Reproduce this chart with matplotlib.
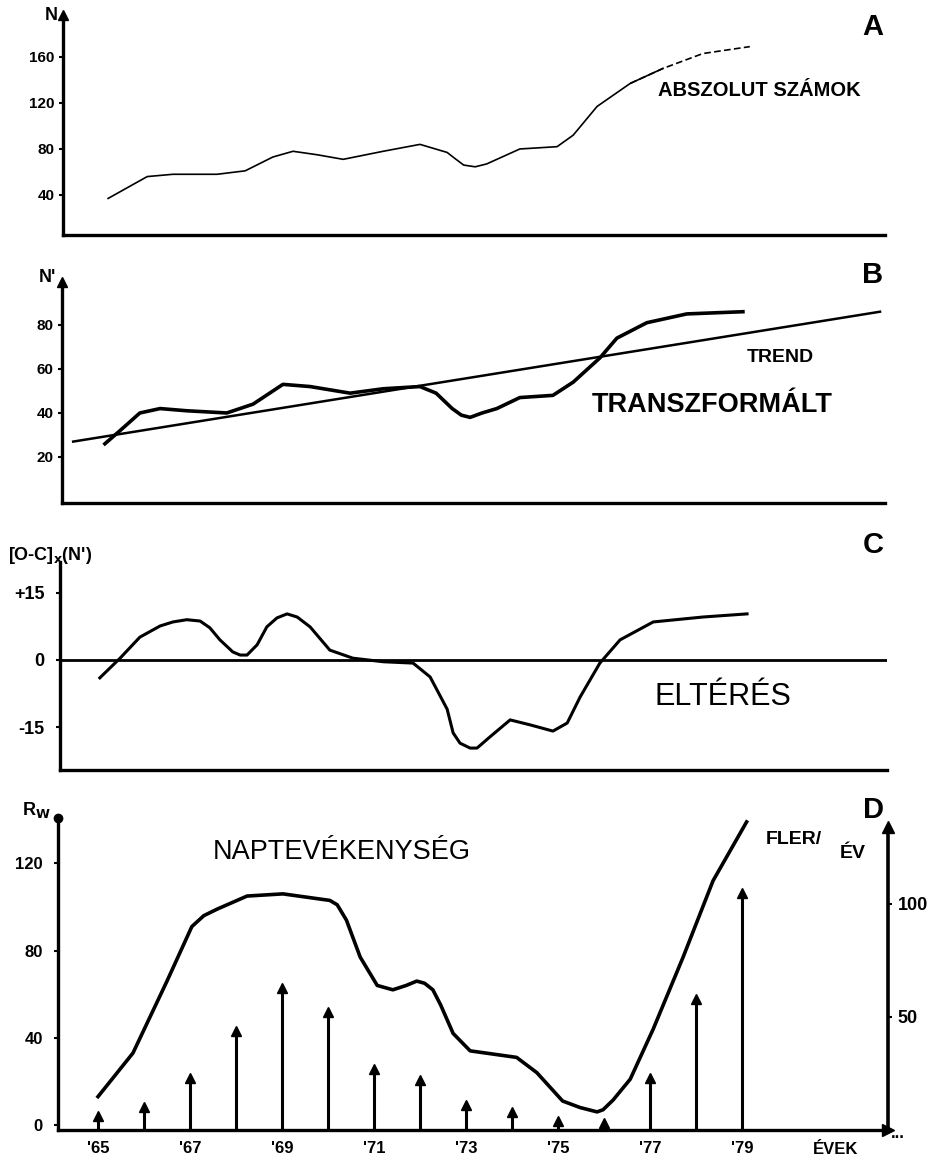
import matplotlib.pyplot as plt
import numpy as np

plt.rcParams['font.family'] = ['Liberation Sans', 'DejaVu Sans']
plt.rcParams['font.weight'] = 'bold'

W, H = 938, 1168

# A: absolute numbers
a_years = [1965.22, 1966.07, 1966.63, 1967.59, 1968.2, 1968.8, 1969.24, 1969.76, 1970.33,
           1971.2, 1972.0, 1972.59, 1972.75, 1972.95, 1973.2, 1973.45, 1974.17, 1974.98,
           1975.33, 1975.85, 1976.57, 1977.28, 1978.15, 1979.17]
a_counts = [37, 56, 58, 58, 61, 73, 78, 75, 71, 78, 84, 77, 72, 66, 64.5, 67, 80, 82,
            92, 117, 137, 150, 163, 169]
a_ticks = [40, 80, 120, 160]

# B: transformed values + linear trend
b_years = [1965.15, 1965.48, 1965.91, 1966.35, 1966.93, 1967.8, 1968.37, 1969.02, 1969.61,
           1970.48, 1971.2, 1972.0, 1972.35, 1972.7, 1972.9, 1973.09, 1973.35, 1973.67,
           1974.17, 1974.89, 1975.33, 1975.91, 1976.28, 1976.93, 1977.8, 1979.02]
b_values = [26, 32, 40, 42, 41, 40, 44, 53, 52, 49, 51, 52, 49, 42, 39, 38, 40, 42,
            47, 48, 54, 65, 74, 81, 85, 86]
trend_years = [1964.46, 1982.0]
trend_values = [27, 86]
b_ticks = [20, 40, 60, 80]

# C: deviation (O-C)
c_years = [1965.04, 1965.48, 1965.91, 1966.35, 1966.63, 1966.93, 1967.22, 1967.43, 1967.65,
           1967.93, 1968.09, 1968.24, 1968.46, 1968.67, 1968.89, 1969.11, 1969.33, 1969.61,
           1970.04, 1970.54, 1971.2, 1971.85, 1972.22, 1972.59, 1972.72, 1972.87, 1973.09,
           1973.24, 1973.52, 1973.96, 1974.39, 1974.89, 1975.2, 1975.48, 1975.91, 1976.35,
           1977.07, 1978.15, 1979.11]
c_dev = [-4.0, 0.4, 5.1, 7.6, 8.5, 9.0, 8.7, 7.2, 4.5, 1.8, 1.1, 1.1, 3.4, 7.4, 9.4,
         10.3, 9.6, 7.4, 2.2, 0.4, -0.4, -0.7, -3.8, -11, -16.3, -18.6, -19.7, -19.7,
         -17.2, -13.4, -14.5, -15.9, -14.1, -8.3, -0.7, 4.5, 8.5, 9.6, 10.3]
c_ticks = [15, 0, -15]
c_ticklabels = ['+15', '0', '-15']

# D: sunspot number Rw and flares per year
rw_years = [1965.0, 1965.76, 1966.5, 1967.04, 1967.3, 1967.59, 1968.24, 1969.02, 1970.04,
            1970.2, 1970.4, 1970.7, 1971.07, 1971.41, 1971.7, 1971.93, 1972.1, 1972.28,
            1972.45, 1972.72, 1973.09, 1974.1, 1974.54, 1975.1, 1975.48, 1975.85, 1975.98,
            1976.2, 1976.57, 1977.07, 1977.72, 1978.37, 1979.1]
rw_values = [13, 33, 66, 91, 96, 99, 105, 106, 103, 101, 94, 77, 64, 62, 64, 66, 65, 62,
             55, 42, 34, 31, 24, 11, 8, 6, 7, 11.5, 21, 44, 77, 112, 139]
flare_years = list(range(1965, 1980))
flares = [6, 10, 23, 44, 63, 52, 27, 22, 11, 8, 4, 3, 23, 58, 105]
rw_ticks = [0, 40, 80, 120]
flare_ticks = [50, 100]
year_ticks = [1965, 1967, 1969, 1971, 1973, 1975, 1977, 1979]
year_labels = ["'65", "'67", "'69", "'71", "'73", "'75", "'77", "'79"]


def year_at(x):
    return 1965 + (x - 98) / 46


def px_axes(fig, left, right, top, bottom):
    ax = fig.add_axes([left / W, 1 - bottom / H, (right - left) / W, (bottom - top) / H])
    ax.set_xlim(year_at(left), year_at(right))
    for s in ['top', 'right']:
        ax.spines[s].set_visible(False)
    for s in ['left', 'bottom']:
        ax.spines[s].set_linewidth(2.4)
    ax.tick_params(axis='x', bottom=False, labelbottom=False)
    ax.tick_params(axis='y', length=3, width=1.5)
    ax.patch.set_alpha(0)
    return ax


def ftext(fig, x, y, s, **kw):
    kw.setdefault('ha', 'center')
    kw.setdefault('va', 'center')
    fig.text(x / W, 1 - y / H, s, **kw)


fig = plt.figure(figsize=(W / 100, H / 100), dpi=100)

# Panel A
ax_a = px_axes(fig, 63, 885, 15, 235)
ax_a.set_ylim(5.2, 196.5)
a_y = np.array(a_years)
a_n = np.array(a_counts)
solid = a_y <= 1977.3
ax_a.plot(a_y[solid], a_n[solid], color='k', lw=1.2)
ax_a.plot(a_y[a_y >= 1976.57], a_n[a_y >= 1976.57], color='k', lw=1.2, ls=(0, (4, 2)))
ax_a.set_yticks(a_ticks)
ax_a.tick_params(axis='y', labelsize=11, pad=3)
ax_a.plot(0, 1, '^', color='k', ms=7, transform=ax_a.transAxes, clip_on=False)
ftext(fig, 51, 15, 'N', fontsize=13)
ftext(fig, 873, 27, 'A', fontsize=21)
ftext(fig, 759, 90, 'ABSZOLUT SZÁMOK', fontsize=14.5)

# Panel B
ax_b = px_axes(fig, 62, 885, 282, 503)
ax_b.set_ylim(-0.9, 99.5)
ax_b.plot(trend_years, trend_values, color='k', lw=1.8)
ax_b.plot(b_years, b_values, color='k', lw=2.6, solid_joinstyle='round')
ax_b.set_yticks(b_ticks)
ax_b.tick_params(axis='y', labelsize=11, pad=3)
ax_b.plot(0, 1, '^', color='k', ms=7, transform=ax_b.transAxes, clip_on=False)
ftext(fig, 47, 278, "N'", fontsize=13)
ftext(fig, 873, 275, 'B', fontsize=21)
ftext(fig, 780, 358, 'TREND', fontsize=14)
ftext(fig, 712, 405, 'TRANSZFORMÁLT', fontsize=19.5)

# Panel C
ax_c = px_axes(fig, 60, 887, 562, 770)
ax_c.set_ylim(-24.6, 21.9)
ax_c.axhline(0, color='k', lw=2)
ax_c.plot(c_years, c_dev, color='k', lw=2.2, solid_joinstyle='round')
ax_c.set_yticks(c_ticks, c_ticklabels)
ax_c.tick_params(axis='y', labelsize=13, pad=8)
ftext(fig, 50, 556, r"[O-C]$_\mathrm{x}$(N')", fontsize=13)
ftext(fig, 873, 545, 'C', fontsize=21)
ftext(fig, 723, 697, 'ELTÉRÉS', fontsize=22, fontweight='normal')

# Panel D
ax_d = px_axes(fig, 58, 888, 818, 1130)
ax_d.set_ylim(-2.3, 140.8)
ax_d.plot(rw_years, rw_values, color='k', lw=2.6, solid_joinstyle='round')
ax_d.set_yticks(rw_ticks)
ax_d.tick_params(axis='y', labelsize=12, pad=8)
ax_d.set_xticks(year_ticks, year_labels)
ax_d.tick_params(axis='x', labelbottom=True, length=0, labelsize=12, pad=8)
ax_d.plot(0, 1, 'o', color='k', ms=6, transform=ax_d.transAxes, clip_on=False)
ax_d.plot(1, 0, '>', color='k', ms=9, transform=ax_d.transAxes, clip_on=False)

ax_f = ax_d.twinx()
ax_f.set_ylim(0, 138)
for s in ['top', 'left', 'bottom']:
    ax_f.spines[s].set_visible(False)
ax_f.spines['right'].set_linewidth(2.6)
ax_f.spines['right'].set_bounds(0, 134)
ax_f.vlines(flare_years, 0, flares, color='k', lw=2.2)
ax_f.plot(flare_years, flares, '^', color='k', ms=7)
ax_f.set_yticks(flare_ticks)
ax_f.tick_params(axis='y', length=3, width=1.5, labelsize=13, pad=4)
ax_f.plot(1, 134, '^', color='k', ms=8, transform=ax_f.get_yaxis_transform(), clip_on=False)

ftext(fig, 36, 810, r'R$_\mathrm{W}$', fontsize=13)
ftext(fig, 873, 810, 'D', fontsize=21)
ftext(fig, 342, 852, 'NAPTEVÉKENYSÉG', fontsize=19.5, fontweight='normal')
ftext(fig, 794, 840, 'FLER/', fontsize=14)
ftext(fig, 853, 853, 'ÉV', fontsize=14)
ftext(fig, 836, 1150, 'ÉVEK', fontsize=12)
ftext(fig, 898, 1133, '...', fontsize=12)

fig.savefig('out.png', dpi=100)
